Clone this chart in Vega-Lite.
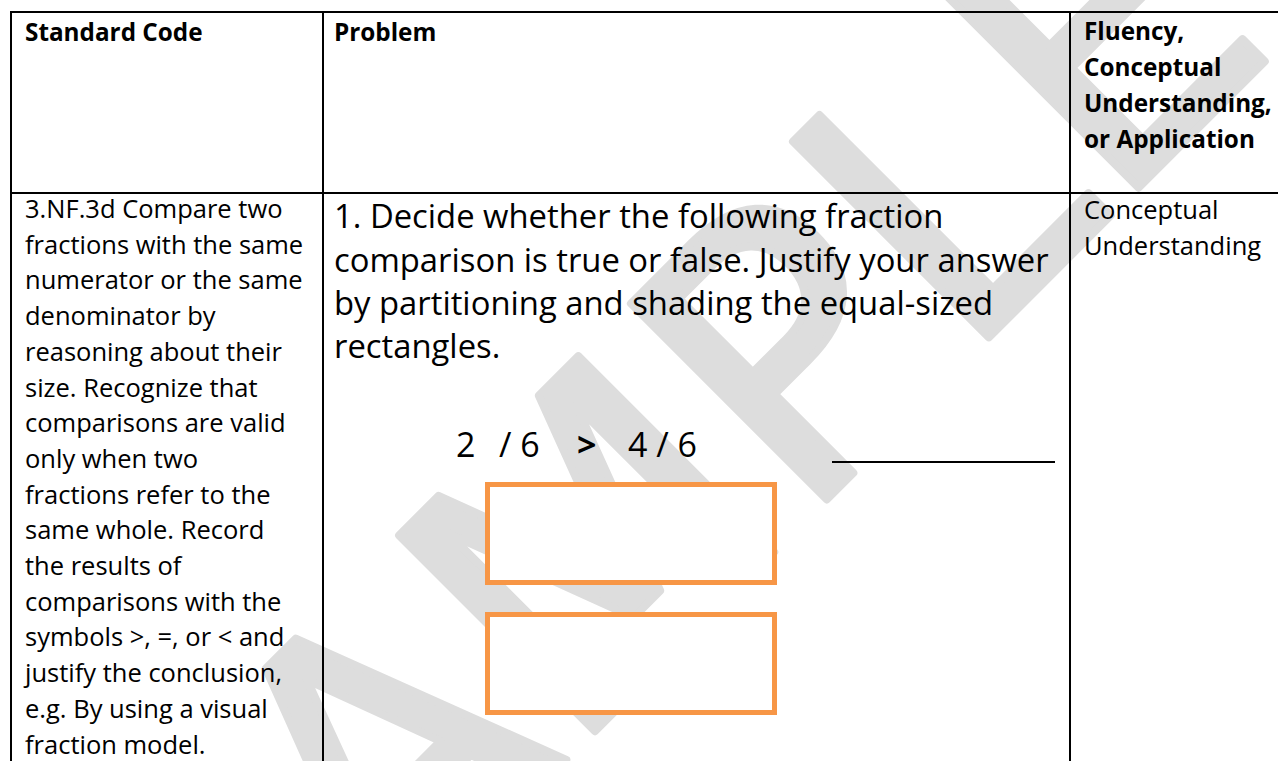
{
  "$schema": "https://vega.github.io/schema/vega-lite/v6.json",
  "width": 1278,
  "height": 761,
  "padding": 0,
  "autosize": {"type": "none"},
  "background": "white",
  "config": {"view": {"stroke": null}, "axis": {"disable": true}},
  "datasets": {
    "watermark": [{"x": 665, "y": 500, "text": "SAMPLE"}],
    "rules": [
      {"part": "top border", "x": 10, "y": 12, "x2": 1290, "y2": 12},
      {"part": "header bottom", "x": 10, "y": 193, "x2": 1290, "y2": 193},
      {"part": "left border", "x": 11, "y": 11, "x2": 11, "y2": 770},
      {"part": "divider 1", "x": 323, "y": 11, "x2": 323, "y2": 770},
      {"part": "divider 2", "x": 1070, "y": 11, "x2": 1070, "y2": 770}
    ],
    "answer": [{"x": 832, "y": 462, "x2": 1055, "y2": 462}],
    "boxes": [
      {"box": "first", "x": 487.5, "x2": 774.5, "y": 484.5, "y2": 582.5},
      {"box": "second", "x": 487.5, "x2": 774.5, "y": 614.5, "y2": 712.5}
    ],
    "texts": [
      {"group": "head", "x": 25, "y": 41, "text": "Standard Code"},
      {"group": "head", "x": 334, "y": 41, "text": "Problem"},
      {"group": "head", "x": 1084, "y": 40, "text": "Fluency,"},
      {"group": "head", "x": 1084, "y": 76, "text": "Conceptual"},
      {"group": "head", "x": 1084, "y": 112, "text": "Understanding,"},
      {"group": "head", "x": 1084, "y": 148, "text": "or Application"},
      {"group": "std", "x": 25, "y": 218, "text": "3.NF.3d Compare two"},
      {"group": "std", "x": 25, "y": 253.7, "text": "fractions with the same"},
      {"group": "std", "x": 25, "y": 289.4, "text": "numerator or the same"},
      {"group": "std", "x": 25, "y": 325.1, "text": "denominator by"},
      {"group": "std", "x": 25, "y": 360.8, "text": "reasoning about their"},
      {"group": "std", "x": 25, "y": 396.5, "text": "size. Recognize that"},
      {"group": "std", "x": 25, "y": 432.2, "text": "comparisons are valid"},
      {"group": "std", "x": 25, "y": 467.9, "text": "only when two"},
      {"group": "std", "x": 25, "y": 503.6, "text": "fractions refer to the"},
      {"group": "std", "x": 25, "y": 539.3, "text": "same whole. Record"},
      {"group": "std", "x": 25, "y": 575, "text": "the results of"},
      {"group": "std", "x": 25, "y": 610.7, "text": "comparisons with the"},
      {"group": "std", "x": 25, "y": 646.4, "text": "symbols >, =, or < and"},
      {"group": "std", "x": 25, "y": 682.1, "text": "justify the conclusion,"},
      {"group": "std", "x": 25, "y": 717.8, "text": "e.g. By using a visual"},
      {"group": "std", "x": 25, "y": 753.5, "text": "fraction model."},
      {"group": "std", "x": 1084, "y": 219, "text": "Conceptual"},
      {"group": "std", "x": 1084, "y": 255, "text": "Understanding"},
      {"group": "problem", "x": 334, "y": 228, "text": "1. Decide whether the following fraction"},
      {"group": "problem", "x": 334, "y": 272, "text": "comparison is true or false. Justify your answer"},
      {"group": "problem", "x": 334, "y": 315, "text": "by partitioning and shading the equal-sized"},
      {"group": "problem", "x": 334, "y": 358, "text": "rectangles."},
      {"group": "fraction", "x": 456, "y": 457, "text": "2"},
      {"group": "fraction", "x": 499, "y": 457, "text": "/ 6"},
      {"group": "fraction", "x": 628, "y": 457, "text": "4 / 6"},
      {"group": "sign", "x": 577, "y": 457, "text": ">"}
    ]
  },
  "encoding": {
    "x": {"field": "x", "type": "quantitative", "scale": {"domain": [0, 1278], "nice": false, "zero": false}, "axis": null},
    "y": {"field": "y", "type": "quantitative", "scale": {"domain": [0, 761], "nice": false, "zero": false, "reverse": true}, "axis": null}
  },
  "layer": [
    {
      "data": {"name": "watermark"},
      "mark": {"type": "text", "font": "DejaVu Sans", "fontSize": 380, "angle": -45, "align": "center", "baseline": "middle", "fill": "#dddddd", "stroke": "#dddddd", "strokeWidth": 8, "strokeJoin": "round", "clip": false},
      "encoding": {"text": {"field": "text"}}
    },
    {
      "data": {"name": "rules"},
      "mark": {"type": "rule", "stroke": "black", "strokeWidth": 2, "clip": true},
      "encoding": {"x2": {"field": "x2"}, "y2": {"field": "y2"}}
    },
    {
      "data": {"name": "answer"},
      "mark": {"type": "rule", "stroke": "black", "strokeWidth": 2},
      "encoding": {"x2": {"field": "x2"}, "y2": {"field": "y2"}}
    },
    {
      "data": {"name": "boxes"},
      "mark": {"type": "rect", "fill": "white", "stroke": "#F79646", "strokeWidth": 5},
      "encoding": {"x2": {"field": "x2"}, "y2": {"field": "y2"}}
    },
    {
      "data": {"name": "texts"},
      "transform": [{"filter": "datum.group === 'head'"}],
      "mark": {"type": "text", "font": "Open Sans", "fontWeight": "bold", "fontSize": 24.3, "align": "left", "baseline": "alphabetic", "fill": "black"},
      "encoding": {"text": {"field": "text"}}
    },
    {
      "data": {"name": "texts"},
      "transform": [{"filter": "datum.group === 'std'"}],
      "mark": {"type": "text", "font": "Open Sans", "fontSize": 25.5, "align": "left", "baseline": "alphabetic", "fill": "black"},
      "encoding": {"text": {"field": "text"}}
    },
    {
      "data": {"name": "texts"},
      "transform": [{"filter": "datum.group === 'problem'"}],
      "mark": {"type": "text", "font": "Open Sans", "fontSize": 32.8, "align": "left", "baseline": "alphabetic", "fill": "black"},
      "encoding": {"text": {"field": "text"}}
    },
    {
      "data": {"name": "texts"},
      "transform": [{"filter": "datum.group === 'fraction'"}],
      "mark": {"type": "text", "font": "Open Sans", "fontSize": 34, "align": "left", "baseline": "alphabetic", "fill": "black"},
      "encoding": {"text": {"field": "text"}}
    },
    {
      "data": {"name": "texts"},
      "transform": [{"filter": "datum.group === 'sign'"}],
      "mark": {"type": "text", "font": "Open Sans", "fontWeight": "bold", "fontSize": 34, "align": "left", "baseline": "alphabetic", "fill": "black"},
      "encoding": {"text": {"field": "text"}}
    }
  ]
}
